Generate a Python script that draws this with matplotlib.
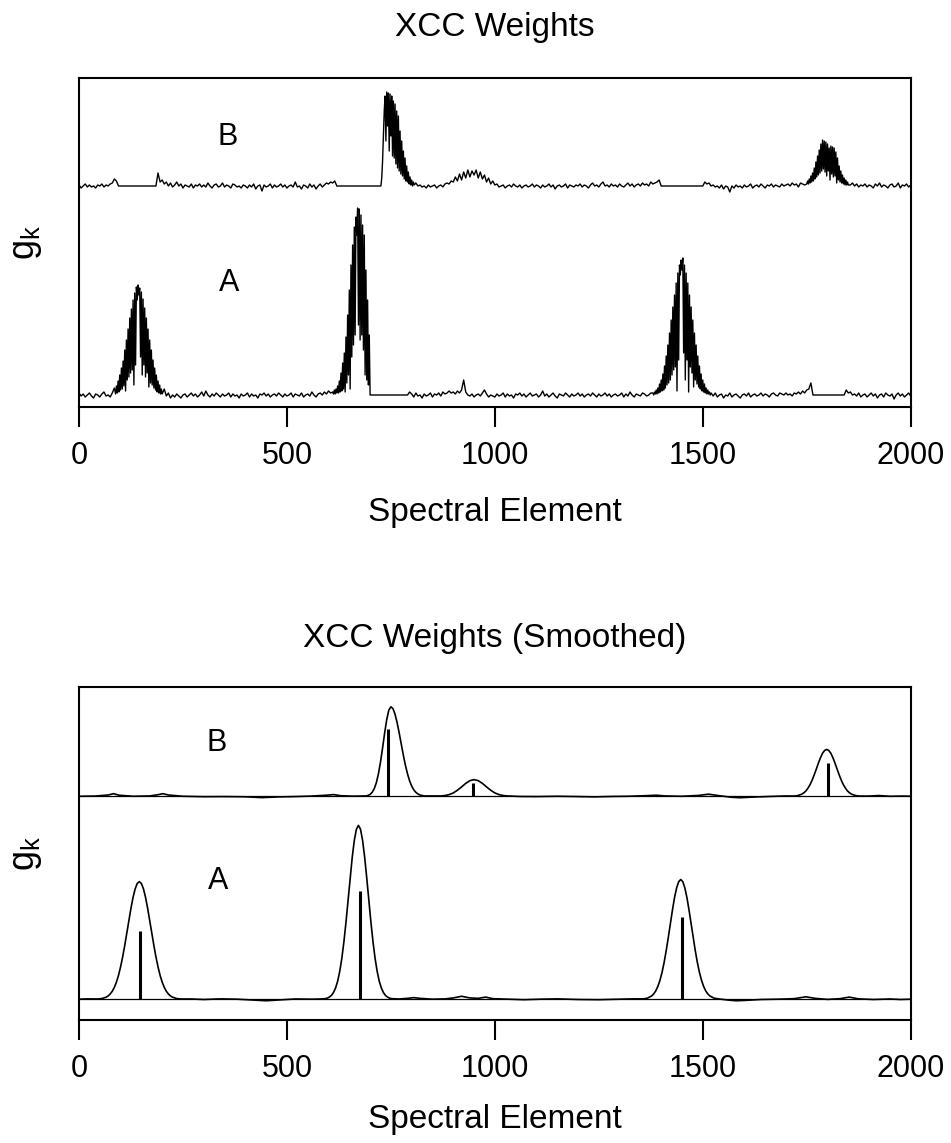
import numpy as np
import matplotlib
matplotlib.use("Agg")
import matplotlib.pyplot as plt

# raw XCC weights, one value every 5 spectral elements (0..2000), in arbitrary units
elements_raw = np.arange(0, 2001, 5)

raw_a = [
    2, -1, 1, -2, 0, 2, -1, -3, 1, 0, -2, 1, 3, -1, 0, -2, 2, 7, 3, 16,
    6, 30, 12, 48, 20, 70, 35, 95, 55, 110, 40, 100, 60, 85, 30, 62, 22, 35, 10, 14,
    4, 6, -1, 2, -3, 0, -2, 1, -1, -3, 0, 1, -2, 0, 2, -1, 1, -2, 0, 3,
    -1, 4, 0, -2, 1, -1, 2, 0, -2, 1, -1, 0, 2, -2, 1, -1, 0, -3, 1, -1,
    0, 2, -2, 1, -1, 0, -3, 1, 0, 2, -1, 1, -2, 0, 1, -1, 2, 0, -2, 1,
    -1, 0, 2, -2, 1, 0, -1, 2, -2, 0, 1, -1, 3, 0, -2, 1, 2, 0, 3, 1,
    4, 2, 5, 4, 2, 10, 5, 30, 8, 70, 25, 130, 60, 175, 110, 187, 90, 160, 40, 85,
    0, 0, 0, 0, 0, 0, 0, 0, 0, 0, 0, 0, 0, 0, 0, 0, 0, 0, 0, 3,
    1, -2, 2, -1, 0, -3, 1, -1, 0, 2, -2, 1, 0, 2, -1, 3, 1, 2, 4, 2,
    3, 1, 4, 2, 5, 15, 3, 0, -1, 1, -2, 0, 1, -1, 2, 5, 1, -2, 0, -1,
    -2, 1, -1, 0, 2, -2, 1, -1, 0, -3, 1, 0, 2, -1, 1, -2, 0, 2, -1, 0,
    1, -2, 0, 4, -1, 1, -2, 0, 2, -1, -3, 1, 0, -1, 2, 0, -2, 1, -1, 0,
    2, -1, 1, -2, 0, 1, -1, 2, 0, -2, 1, -1, 0, 2, -1, 1, -2, 0, 1, -1,
    0, 2, -2, 1, -1, 3, 0, -2, 1, 0, -1, 2, 1, -1, 0, 2, 1, 4, 7, 3,
    14, 6, 30, 10, 60, 25, 90, 40, 125, 60, 137, 20, 120, 15, 95, 45, 60, 20, 30, 12,
    14, 5, 7, 3, 1, -1, 2, -2, 0, 1, -3, 0, -1, 2, -2, 0, 1, -1, -3, 0,
    1, -1, 2, -2, 0, 1, -1, 0, 2, -1, 1, 0, -2, 1, 2, 0, -1, 2, 1, 0,
    2, 0, 1, -1, 2, 1, 3, 1, 4, 2, 5, 6, 12, 0, 0, 0, 0, 0, 0, 0,
    0, 0, 0, 0, 0, 0, 0, 0, 0, 5, 2, 3, 0, 1, -1, 2, -2, 0, 1, -2,
    0, 2, -1, 1, -3, 0, 1, -2, 2, 0, -1, 1, -4, 0, 2, -1, 1, -2, 0, 2,
    -1,
]

raw_b = [
    1, -2, 0, 2, -1, 1, -1, 0, -2, 1, 0, 2, -1, 1, 0, 2, 3, 7, 5, 0,
    0, 0, 0, 0, 0, 0, 0, 0, 0, 0, 0, 0, 0, 0, 0, 0, 0, 0, 13, 4,
    6, 2, 4, 0, 3, -1, 1, 4, 0, 2, -2, 1, 0, -1, 2, -2, 1, 0, 2, -1,
    1, -1, 3, 0, -2, 1, 2, -1, 0, 3, -1, 1, 0, -2, 2, 1, -1, 0, -2, 1,
    0, -2, 1, -1, 2, -3, 0, 1, -5, 1, -1, 0, 2, -2, 1, -1, 0, 2, -1, 1,
    -2, 0, 1, -1, 4, -1, 0, -3, 1, 0, -2, 2, -1, 1, -3, 0, 2, -1, 1, 3,
    2, 4, 3, 5, 0, 0, 0, 0, 0, 0, 0, 0, 0, 0, 0, 0, 0, 0, 0, 0,
    0, 0, 0, 0, 0, 0, 20, 80, 94, 70, 93, 65, 80, 45, 70, 30, 40, 18, 22, 8,
    5, 2, 3, 0, 1, -1, 0, -2, 1, -1, 0, 1, -2, 0, 1, -1, 2, 3, 2, 5,
    4, 9, 5, 12, 6, 14, 8, 16, 9, 15, 11, 16, 8, 14, 7, 11, 4, 8, 2, 5,
    1, 2, -1, 0, 1, -2, 0, 1, -1, 2, 0, -1, 1, -2, 0, 1, -1, 0, 2, -1,
    1, 0, -2, 1, -1, 0, 2, -1, 1, -3, 0, 1, -1, 0, 2, -2, 1, 0, -1, 1,
    0, 2, -1, 1, 0, -2, 1, 3, 0, 1, -1, 2, 4, 0, 1, -1, 2, 0, 1, -1,
    2, 0, -1, 1, 3, 0, 2, -1, 1, 2, 0, 3, 1, 2, 0, 4, 2, 3, 4, 6,
    0, 0, 0, 0, 0, 0, 0, 0, 0, 0, 0, 0, 0, 0, 0, 0, 0, 0, 0, 0,
    0, 4, 2, 3, 0, 1, -1, 0, -2, 1, -3, 0, -1, -6, 0, -2, 1, -1, 0, -2,
    1, -1, 0, 2, -2, 0, 1, -1, 2, 0, -2, 1, 0, 2, -1, 1, 0, -1, 2, 0,
    1, 2, 0, 3, 1, 2, -1, 3, 2, 1, 4, 6, 9, 14, 20, 28, 36, 32, 46, 30,
    44, 25, 42, 20, 30, 12, 18, 8, 10, 4, 5, 1, 3, 0, 2, -1, 1, 0, 2, -1,
    1, 0, -2, 2, 0, 3, -1, 1, 0, -2, 1, 2, -1, 0, 3, -2, 1, 0, 2, -1,
    1,
]

# the big raw peaks are read more finely, every 2 elements; these replace the coarse values
peak_a1_x = np.arange(86, 201, 2)
peak_a1 = [5, 1, 9, 2, 14, 3, 20, 5, 27, 6, 34, 9, 45, 4, 55, 15, 66, 18, 77, 22, 86,
           25, 95, 10, 102, 30, 108, 95, 110, 100, 107, 38, 103, 20, 96, 30, 87, 18,
           77, 22, 66, 8, 55, 12, 45, 10, 35, 7, 27, 5, 20, 3, 14, 2, 10, 1, 6, 1]
peak_a2_x = np.arange(610, 701, 2)
peak_a2 = [3, 1, 5, 1, 6, 2, 9, 2, 14, 3, 22, 4, 32, 6, 42, 3, 58, 12, 80, 20, 105,
           6, 130, 38, 150, 50, 168, 60, 178, 160, 187, 70, 186, 55, 180, 60, 170, 45,
           160, 20, 125, 15, 95, 10, 60, 0]
peak_a3_x = np.arange(1380, 1521, 2)
peak_a3 = [2, 0, 3, 1, 5, 1, 7, 2, 11, 3, 15, 4, 21, 5, 29, 7, 39, 10, 50, 12, 62,
           15, 75, 20, 88, 25, 100, 28, 112, 4, 122, 35, 130, 120, 135, 125, 137, 42,
           130, 15, 122, 35, 112, 3, 100, 28, 88, 22, 75, 8, 62, 15, 50, 11, 39, 8,
           29, 6, 21, 4, 15, 3, 11, 2, 7, 1, 5, 1, 3, 0, 2]
peak_b1_x = np.arange(726, 807, 2)
peak_b1 = [0, 8, 25, 50, 75, 90, 45, 94, 60, 93, 35, 92, 50, 90, 30, 85, 28, 82, 22,
           75, 18, 70, 15, 55, 12, 45, 10, 35, 7, 28, 5, 20, 4, 14, 2, 9, 1, 6, 0, 4, 1]
peak_b3_x = np.arange(1750, 1851, 2)
peak_b3 = [2, 5, 2, 7, 3, 10, 4, 13, 5, 18, 7, 24, 9, 30, 11, 36, 13, 42, 15, 46,
           17, 45, 14, 44, 10, 42, 15, 38, 6, 40, 12, 39, 9, 38, 10, 34, 3, 28, 6,
           20, 4, 15, 3, 11, 2, 8, 1, 6, 1, 4, 1]

# smoothed weights
smooth_a_x = [0, 20, 45, 55, 65, 70, 75, 80, 85, 90, 95, 100, 105, 110, 115, 120, 125,
              130, 135, 140, 145, 150, 155, 160, 165, 170, 175, 180, 185, 190, 195,
              200, 205, 210, 215, 220, 225, 235, 245, 270, 300, 340, 380, 420, 450,
              480, 520, 560, 580, 592, 597, 602, 607, 612, 617, 622, 627, 632, 637,
              642, 647, 652, 657, 662, 667, 672, 677, 682, 687, 692, 697, 702, 707,
              712, 717, 722, 727, 732, 737, 742, 747, 752, 770, 790, 805, 820, 850,
              880, 900, 920, 940, 960, 978, 995, 1030, 1070, 1110, 1150, 1200, 1250,
              1300, 1330, 1357, 1367, 1377, 1382, 1387, 1392, 1397, 1402, 1407, 1412,
              1417, 1422, 1427, 1432, 1437, 1442, 1447, 1452, 1457, 1462, 1467, 1472,
              1477, 1482, 1487, 1492, 1497, 1502, 1507, 1512, 1517, 1527, 1537, 1560,
              1580, 1600, 1640, 1680, 1720, 1748, 1770, 1800, 1830, 1852, 1875, 1910,
              1950, 1975, 2000]
smooth_a_y = [0, 0.3, 0.2, 0.6, 1.9, 3.1, 5.0, 7.6, 11.4, 16.4, 22.9, 31.1, 40.7, 51.7,
              63.7, 75.9, 87.5, 97.9, 106, 111.2, 113, 111.2, 106, 97.9, 87.5, 75.9,
              63.7, 51.7, 40.7, 31.1, 22.9, 16.4, 11.4, 7.6, 5.0, 3.1, 1.9, 0.6, 0.2,
              0.2, -0.3, 0.3, 0, -0.8, -1.5, -0.8, 0.2, 0, 0.2, 0.5, 1.0, 2.0, 3.6,
              6.4, 10.8, 17.3, 26.7, 39.2, 55.1, 73.9, 94.8, 116.3, 136.2, 152.5,
              163.3, 167, 163.3, 152.5, 136.2, 116.3, 94.8, 73.9, 55.1, 39.2, 26.7,
              17.3, 10.8, 6.4, 3.6, 2.0, 1.0, 0.5, 0.2, 0.8, 1.5, 0.8, 0, 0.3, 1.2,
              2.8, 1.2, 0.8, 2.0, 0.5, 0, -0.5, 0, 0.3, -0.3, -0.5, 0, 0.3, 0.3, 1.0,
              3.1, 5.1, 8.0, 12.3, 18.1, 25.7, 35.2, 46.5, 59.1, 72.4, 85.5, 97.4,
              106.8, 112.9, 115, 112.9, 106.8, 97.4, 85.5, 72.4, 59.1, 46.5, 35.2,
              25.7, 18.1, 12.3, 8.0, 5.1, 3.1, 1.0, 0.3, -0.8, -1.5, -1.2, -0.3, 0,
              0.5, 2.3, 0.8, -0.2, 0.5, 2.0, 0.3, -0.3, 0.2, -0.3, 0]

smooth_b_x = [0, 40, 70, 83, 96, 130, 170, 190, 202, 215, 250, 300, 350, 400, 440, 480,
              520, 560, 595, 612, 630, 660, 690, 695, 700, 705, 710, 715, 720, 725,
              730, 735, 740, 745, 750, 755, 760, 765, 770, 775, 780, 785, 790, 795,
              800, 805, 810, 815, 820, 830, 850, 870, 880, 890, 900, 910, 920, 930,
              940, 950, 960, 970, 980, 990, 1000, 1010, 1020, 1030, 1060, 1100, 1150,
              1200, 1240, 1280, 1320, 1360, 1388, 1410, 1450, 1490, 1514, 1540, 1570,
              1590, 1620, 1660, 1700, 1718, 1728, 1738, 1743, 1748, 1753, 1758, 1763,
              1768, 1773, 1778, 1783, 1788, 1793, 1798, 1803, 1808, 1813, 1818, 1823,
              1828, 1833, 1838, 1843, 1848, 1853, 1858, 1868, 1878, 1900, 1923, 1950,
              1980, 2000]
smooth_b_y = [0, 0.2, 1.2, 2.5, 1.0, 0, 0.3, 1.5, 2.5, 1.2, 0, -0.4, -0.3, -0.5, -1.3,
              -0.6, -0.3, 0.2, 1.0, 1.6, 0.5, 0.1, 0.3, 0.8, 1.8, 3.8, 7.3, 13.0, 21.5,
              32.8, 46.4, 60.8, 73.7, 82.7, 86, 84.2, 78.8, 70.7, 60.8, 50.0, 39.4,
              29.7, 21.5, 14.8, 9.8, 6.2, 3.8, 2.2, 1.2, 0.3, 0.3, 0.3, 0.7, 1.6, 3.2,
              5.8, 9.0, 12.4, 15.0, 16, 15.0, 12.4, 9.0, 5.8, 3.2, 1.6, 0.7, 0.3,
              -0.2, -0.3, 0, -0.3, -0.6, -0.2, 0, 0.5, 1.0, 0.3, 0, 0.8, 2.0, 0.5,
              -1.0, -1.4, -0.8, -0.2, 0.3, 0.2, 0.6, 2.0, 3.3, 5.1, 7.8, 11.2, 15.5,
              20.6, 26.1, 31.8, 37.0, 41.3, 44.0, 45, 44.0, 41.3, 37.0, 31.8, 26.1,
              20.6, 15.5, 11.2, 7.8, 5.1, 3.3, 2.0, 0.6, 0.2, 0.2, 0.7, 0, 0.2, 0]

# stick markers under the smoothed peaks
sticks_a_pos = [146, 676, 1449]
sticks_a_h = [66, 104, 79]
sticks_b_pos = [744, 948, 1801]
sticks_b_h = [65, 13, 32]

assert len(raw_a) == len(elements_raw) and len(raw_b) == len(elements_raw)
assert len(smooth_a_x) == len(smooth_a_y) and len(smooth_b_x) == len(smooth_b_y)


def with_peaks(xs, ys, segments):
    # drop coarse points covered by a fine segment, then merge everything in order
    xs = np.asarray(xs, float)
    ys = np.asarray(ys, float)
    keep = np.ones(len(xs), bool)
    for sx, sy in segments:
        assert len(sx) == len(sy)
        keep &= (xs < sx[0]) | (xs > sx[-1])
    x_all = np.concatenate([xs[keep]] + [np.asarray(sx, float) for sx, _ in segments])
    y_all = np.concatenate([ys[keep]] + [np.asarray(sy, float) for _, sy in segments])
    order = np.argsort(x_all, kind="stable")
    return x_all[order], y_all[order]


trace_a_x, trace_a_y = with_peaks(elements_raw, raw_a,
                                  [(peak_a1_x, peak_a1), (peak_a2_x, peak_a2), (peak_a3_x, peak_a3)])
trace_b_x, trace_b_y = with_peaks(elements_raw, raw_b,
                                  [(peak_b1_x, peak_b1), (peak_b3_x, peak_b3)])

# vertical offsets of trace B above trace A
off_top = 209
off_bot = 195

plt.rcParams["font.family"] = ["Liberation Sans", "DejaVu Sans"]

W, H = 951, 1143
fig = plt.figure(figsize=(W / 100, H / 100), dpi=100)
left, right = 79, 910.7
ax1 = fig.add_axes([left / W, 1 - 407 / H, (right - left) / W, (407 - 78) / H])
ax2 = fig.add_axes([left / W, 1 - 1020 / H, (right - left) / W, (1020 - 687) / H])

ax1.plot(trace_a_x, trace_a_y, color="black", lw=1.0)
ax1.plot(trace_b_x, trace_b_y + off_top, color="black", lw=1.0)
ax1.set_ylim(-12, 317)
ax1.text(358, 258, "B", fontsize=22, ha="center", va="center")
ax1.text(362, 112, "A", fontsize=22, ha="center", va="center")
ax1.set_title("XCC Weights", fontsize=24, pad=30)

ax2.axhline(0, color="black", lw=0.9)
ax2.axhline(off_bot, color="black", lw=0.9)
ax2.plot(smooth_a_x, smooth_a_y, color="black", lw=1.2)
ax2.plot(smooth_b_x, np.array(smooth_b_y) + off_bot, color="black", lw=1.2)
ax2.vlines(sticks_a_pos, 0, sticks_a_h, color="black", lw=2.2)
ax2.vlines(sticks_b_pos, off_bot, np.array(sticks_b_h) + off_bot, color="black", lw=2.2)
ax2.set_ylim(-20, 300)
ax2.text(332, 246, "B", fontsize=22, ha="center", va="center")
ax2.text(334, 114, "A", fontsize=22, ha="center", va="center")
ax2.set_title("XCC Weights (Smoothed)", fontsize=24, pad=29)

for ax, xl_y in ((ax1, -0.2736), (ax2, -0.2523)):
    ax.set_xlim(0, 2000)
    ax.set_xticks([0, 500, 1000, 1500, 2000])
    ax.set_yticks([])
    ax.tick_params(axis="x", direction="out", length=14.5, width=1.5, pad=10, labelsize=22)
    for s in ax.spines.values():
        s.set_linewidth(1.5)
    ax.set_xlabel("Spectral Element", fontsize=24)
    ax.xaxis.set_label_coords(0.5, xl_y)
    ax.set_ylabel(r"$\mathregular{g_k}$", fontsize=26, labelpad=25)

fig.savefig("out.png", dpi=100)
